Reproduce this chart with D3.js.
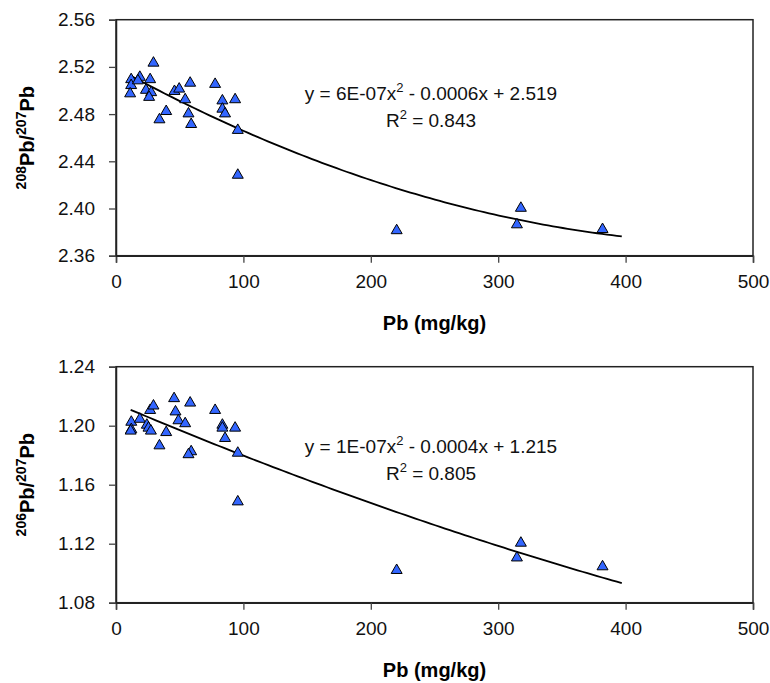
<!DOCTYPE html>
<html lang="en">
<head>
  <meta charset="UTF-8">
  <title>Pb isotope ratios vs Pb</title>
  <script src="https://d3js.org/d3.v7.min.js"></script>
  <style>
    body { margin: 0; background: #fff; }
    svg { display: block; font-family: "Liberation Sans", Arial, sans-serif; }
  </style>
</head>
<body>
  <svg id="chart"></svg>

  <script>
    // Pb concentration (mg/kg) and ratios
    const pbTop = [29.4, 11.9, 11.9, 11.1, 18.7, 17.2, 26.8, 23.5, 27.6, 26.0,
                   45.9, 49.6, 58.2, 54.3, 39.4, 34.1, 56.9, 59.0, 77.8, 83.5,
                   93.5, 83.5, 85.6, 95.6, 95.6, 220.3, 317.8, 314.7, 381.9];
    const ratio208 = [2.524, 2.510, 2.505, 2.498, 2.512, 2.509, 2.510, 2.501, 2.499, 2.495,
                      2.500, 2.502, 2.507, 2.493, 2.483, 2.476, 2.481, 2.472, 2.506, 2.492,
                      2.493, 2.485, 2.481, 2.467, 2.429, 2.382, 2.401, 2.387, 2.383];

    const pbBottom = [12.0, 12.0, 11.5, 18.7, 26.8, 29.4, 24.2, 25.5, 27.4, 39.4,
                      34.1, 45.6, 58.2, 46.7, 49.0, 54.3, 59.0, 56.9, 77.8, 83.5,
                      83.5, 93.5, 85.6, 95.6, 95.6, 220.3, 317.8, 314.7, 381.9];
    const ratio206 = [1.203, 1.198, 1.197, 1.205, 1.211, 1.214, 1.201, 1.199, 1.197, 1.196,
                      1.187, 1.219, 1.216, 1.210, 1.204, 1.202, 1.183, 1.181, 1.211, 1.201,
                      1.199, 1.199, 1.192, 1.182, 1.149, 1.1025, 1.121, 1.111, 1.105];

    const xTicks = [0, 100, 200, 300, 400, 500];
    const yTicksTop = [2.36, 2.40, 2.44, 2.48, 2.52, 2.56];
    const yTicksBottom = [1.08, 1.12, 1.16, 1.20, 1.24];
    const trendEnd = 397;

    const width = 770, height = 683;
    const left = 116, right = 753;

    const svg = d3.select("#chart").attr("width", width).attr("height", height);

    // least squares quadratic fit: returns [a, b, c] for a*x^2 + b*x + c
    function quadFit(xs, ys) {
      const s = k => d3.sum(xs, x => Math.pow(x, k));
      const t = k => d3.sum(xs, (x, i) => Math.pow(x, k) * ys[i]);
      const m = [
        [s(4), s(3), s(2), t(2)],
        [s(3), s(2), s(1), t(1)],
        [s(2), s(1), xs.length, t(0)]
      ];
      for (let i = 0; i < 3; i++) {
        for (let j = i + 1; j < 3; j++) {
          const f = m[j][i] / m[i][i];
          for (let k = i; k < 4; k++) m[j][k] -= f * m[i][k];
        }
      }
      const r = [0, 0, 0];
      for (let i = 2; i >= 0; i--) {
        let v = m[i][3];
        for (let k = i + 1; k < 3; k++) v -= m[i][k] * r[k];
        r[i] = v / m[i][i];
      }
      return r;
    }

    function drawPanel(opt) {
      const x = d3.scaleLinear().domain([0, 500]).range([left, right]);
      const y = d3.scaleLinear().domain(d3.extent(opt.yTicks)).range([opt.bottom, opt.top]);
      const g = svg.append("g");

      // frame
      g.append("rect")
        .attr("x", left).attr("y", opt.top)
        .attr("width", right - left).attr("height", opt.bottom - opt.top)
        .attr("fill", "none").attr("stroke", "#222").attr("stroke-width", 1.5);

      const xAxis = g.append("g")
        .attr("transform", `translate(0,${opt.bottom})`)
        .call(d3.axisBottom(x).tickValues(xTicks).tickSize(7).tickPadding(12).tickFormat(d3.format("d")));
      const yAxis = g.append("g")
        .attr("transform", `translate(${left},0)`)
        .call(d3.axisLeft(y).tickValues(opt.yTicks).tickSize(7).tickPadding(14).tickFormat(d3.format(".2f")));

      [xAxis, yAxis].forEach(a => {
        a.select(".domain").attr("stroke", "#222").attr("stroke-width", 1.5);
        a.selectAll(".tick line").attr("stroke", "#444").attr("stroke-width", 1.3);
        a.selectAll(".tick text").attr("fill", "#111").style("font-size", "19px")
          .style("font-family", "'Liberation Sans', Arial, sans-serif");
      });

      // trend line
      const [a, b, c] = quadFit(opt.xs, opt.ys);
      const x0 = d3.min(opt.xs);
      const curve = d3.range(0, 101).map(i => {
        const xv = x0 + (trendEnd - x0) * i / 100;
        return [xv, a * xv * xv + b * xv + c];
      });
      g.append("path")
        .datum(curve)
        .attr("fill", "none").attr("stroke", "#000").attr("stroke-width", 1.8)
        .attr("d", d3.line().x(d => x(d[0])).y(d => y(d[1])));

      // triangle markers
      const tri = d3.symbol().type(d3.symbolTriangle).size(52);
      g.selectAll("path.pt")
        .data(opt.xs.map((v, i) => [v, opt.ys[i]]))
        .join("path")
        .attr("class", "pt")
        .attr("d", tri)
        .attr("transform", d => `translate(${x(d[0])},${y(d[1]) + 0.8})`)
        .attr("fill", "#3366ff").attr("stroke", "#000").attr("stroke-width", 1);

      // equation
      const eq = g.append("text").attr("x", 431).attr("y", opt.top + opt.eqOffset)
        .attr("text-anchor", "middle").style("font-size", "19px").attr("fill", "#111");
      eq.append("tspan").text(opt.eq[0]);
      eq.append("tspan").attr("dy", -8).style("font-size", "13px").text("2");
      eq.append("tspan").attr("dy", 8).text(opt.eq[1]);

      const r2 = g.append("text").attr("x", 431).attr("y", opt.top + opt.eqOffset + 27)
        .attr("text-anchor", "middle").style("font-size", "19px").attr("fill", "#111");
      r2.append("tspan").text("R");
      r2.append("tspan").attr("dy", -8).style("font-size", "13px").text("2");
      r2.append("tspan").attr("dy", 8).text(" = " + opt.r2);

      // axis titles
      g.append("text")
        .attr("x", (left + right) / 2).attr("y", opt.bottom + 74)
        .attr("text-anchor", "middle").style("font-size", "20px").style("font-weight", "bold")
        .text("Pb (mg/kg)");

      const yt = g.append("text")
        .attr("transform", `translate(34,${(opt.top + opt.bottom) / 2}) rotate(-90)`)
        .attr("text-anchor", "middle").style("font-size", "20px").style("font-weight", "bold");
      yt.append("tspan").attr("dy", -8).style("font-size", "14px").text(opt.isoTop);
      yt.append("tspan").attr("dy", 8).text("Pb/");
      yt.append("tspan").attr("dy", -8).style("font-size", "14px").text("207");
      yt.append("tspan").attr("dy", 8).text("Pb");
    }

    drawPanel({
      xs: pbTop, ys: ratio208, yTicks: yTicksTop, top: 19.7, bottom: 255.7,
      eq: ["y = 6E-07x", " - 0.0006x + 2.519"], r2: "0.843", eqOffset: 80, isoTop: "208"
    });

    drawPanel({
      xs: pbBottom, ys: ratio206, yTicks: yTicksBottom, top: 366.7, bottom: 602.7,
      eq: ["y = 1E-07x", " - 0.0004x + 1.215"], r2: "0.805", eqOffset: 86, isoTop: "206"
    });
  </script>
</body>
</html>
